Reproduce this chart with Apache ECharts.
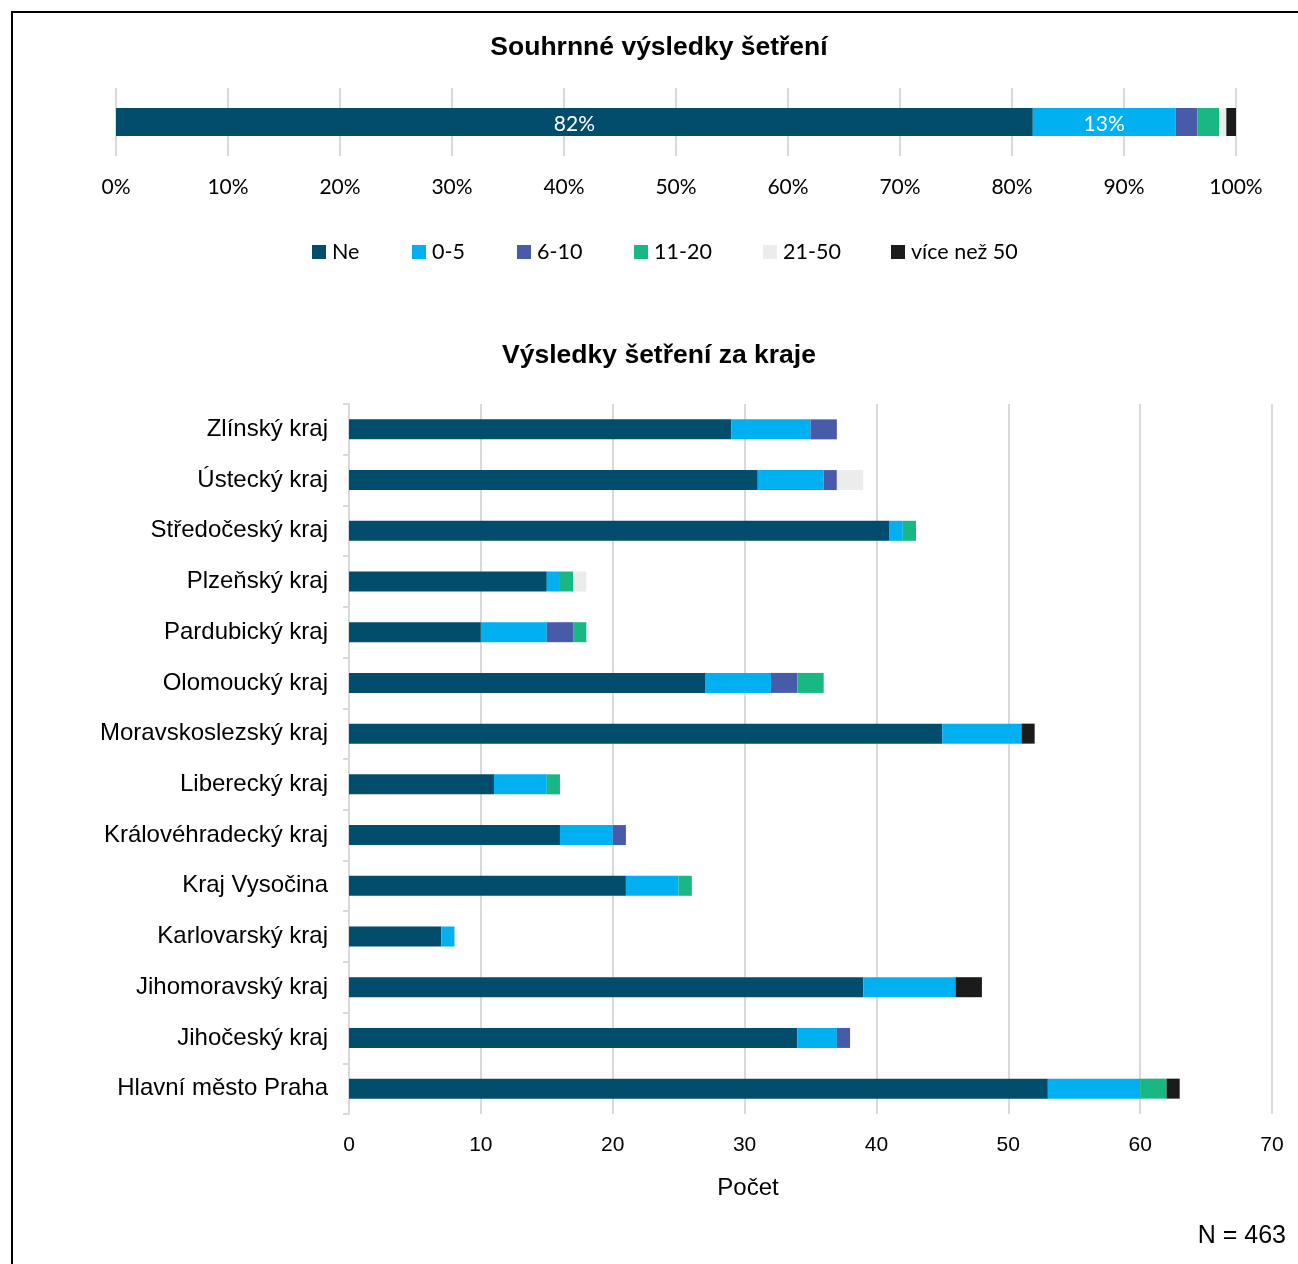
<!DOCTYPE html>
<html>
<head>
<meta charset="utf-8">
<script src="https://cdn.jsdelivr.net/npm/echarts@6/dist/echarts.min.js"></script>
<style>html,body{margin:0;padding:0;background:#fff}#c{width:1298px;height:1264px}</style>
</head>
<body>
<div id="c"></div>
<script>
// Regions (bottom to top, as drawn on the category axis)
const regions = ['Hlavní město Praha','Jihočeský kraj','Jihomoravský kraj','Karlovarský kraj','Kraj Vysočina','Královéhradecký kraj','Liberecký kraj','Moravskoslezský kraj','Olomoucký kraj','Pardubický kraj','Plzeňský kraj','Středočeský kraj','Ústecký kraj','Zlínský kraj'];
const seriesNames = ['Ne','0-5','6-10','11-20','21-50','více než 50'];
const ne       = [53,34,39,7,21,16,11,45,27,10,15,41,31,29];
const s0_5     = [7,3,7,1,4,4,4,6,5,5,1,1,5,6];
const s6_10    = [0,1,0,0,0,1,0,0,2,2,0,0,1,2];
const s11_20   = [2,0,0,0,1,0,1,0,2,1,1,1,0,0];
const s21_50   = [0,0,0,0,0,0,0,0,0,0,1,0,2,0];
const s50plus  = [1,0,2,0,0,0,0,1,0,0,0,0,0,0];

const colors = ['#024d6b','#00b0f0','#485ba8','#18b784','#ececec','#1b1b1b'];
const legendLeft = [307,407,512,629,758,886];
const allData = [ne,s0_5,s6_10,s11_20,s21_50,s50plus];
const sum = a => a.reduce((x,y)=>x+y,0);
const total = sum(allData.map(sum));
const summaryPct = allData.map(a => sum(a)/total*100);

const calib = 'Lato, "Open Sans", sans-serif';
const arial = '"Liberation Sans", Arial, sans-serif';

const series = [];
seriesNames.forEach((n,i)=>{
  series.push({
    name:n, type:'bar', stack:'top', xAxisIndex:0, yAxisIndex:0,
    data:[summaryPct[i]], barWidth:28, itemStyle:{color:colors[i]},
    label:{show:i<2, position:'inside', color:'#fff', fontFamily:calib, fontSize:21, offset:[0,2],
      formatter:p=>Math.round(p.value)+'%'}
  });
});
seriesNames.forEach((n,i)=>{
  series.push({
    name:n, type:'bar', stack:'bottom', xAxisIndex:1, yAxisIndex:1,
    data:allData[i], barWidth:20, itemStyle:{color:colors[i]}
  });
});

const legends = seriesNames.map((n,i)=>({
  data:[n], left:legendLeft[i], top:236, itemWidth:14, itemHeight:14, itemGap:0,
  icon:'rect', textStyle:{fontFamily:calib, fontSize:21.5, color:'#000', padding:[0,0,0,1]}
}));

const chart = echarts.init(document.getElementById('c'));
chart.setOption({
  animation:false,
  backgroundColor:'#fff',
  legend:legends,
  grid:[
    {left:116, right:62, top:88, height:68},
    {left:349, right:26, top:404, height:710}
  ],
  xAxis:[
    {gridIndex:0, type:'value', min:0, max:100, interval:10,
      axisLine:{show:false}, axisTick:{show:false},
      axisLabel:{formatter:'{value}%', fontFamily:calib, fontSize:21, color:'#000', margin:21},
      splitLine:{show:true, lineStyle:{color:'#d9d9d9', width:2}}},
    {gridIndex:1, type:'value', min:0, max:70, interval:10,
      axisLine:{show:false}, axisTick:{show:false},
      axisLabel:{fontFamily:arial, fontSize:21, color:'#000', margin:21},
      splitLine:{show:true, lineStyle:{color:'#d9d9d9', width:2}}}
  ],
  yAxis:[
    {gridIndex:0, type:'category', data:['Celkem'], show:false},
    {gridIndex:1, type:'category', data:regions,
      axisLine:{show:true, lineStyle:{color:'#d9d9d9', width:2}},
      axisTick:{show:true, length:6, lineStyle:{color:'#d9d9d9', width:2}},
      axisLabel:{fontFamily:arial, fontSize:24, color:'#000', margin:21}}
  ],
  graphic:[
    {type:'rect', shape:{x:12, y:12, width:1300, height:1280}, style:{fill:'none', stroke:'#000', lineWidth:2}, silent:true},
    {type:'text', x:659, y:48, style:{text:'Souhrnné výsledky šetření', textAlign:'center', textVerticalAlign:'middle', font:'bold 26.5px "Liberation Sans", Arial, sans-serif', fill:'#000'}},
    {type:'text', x:659, y:356, style:{text:'Výsledky šetření za kraje', textAlign:'center', textVerticalAlign:'middle', font:'bold 26.5px "Liberation Sans", Arial, sans-serif', fill:'#000'}},
    {type:'text', x:748, y:1188, style:{text:'Počet', textAlign:'center', textVerticalAlign:'middle', font:'24px "Liberation Sans", Arial, sans-serif', fill:'#000'}},
    {type:'text', x:1286, y:1236, style:{text:'N = ' + total, textAlign:'right', textVerticalAlign:'middle', font:'25px "Liberation Sans", Arial, sans-serif', fill:'#000'}}
  ],
  series:series
});
</script>
</body>
</html>
